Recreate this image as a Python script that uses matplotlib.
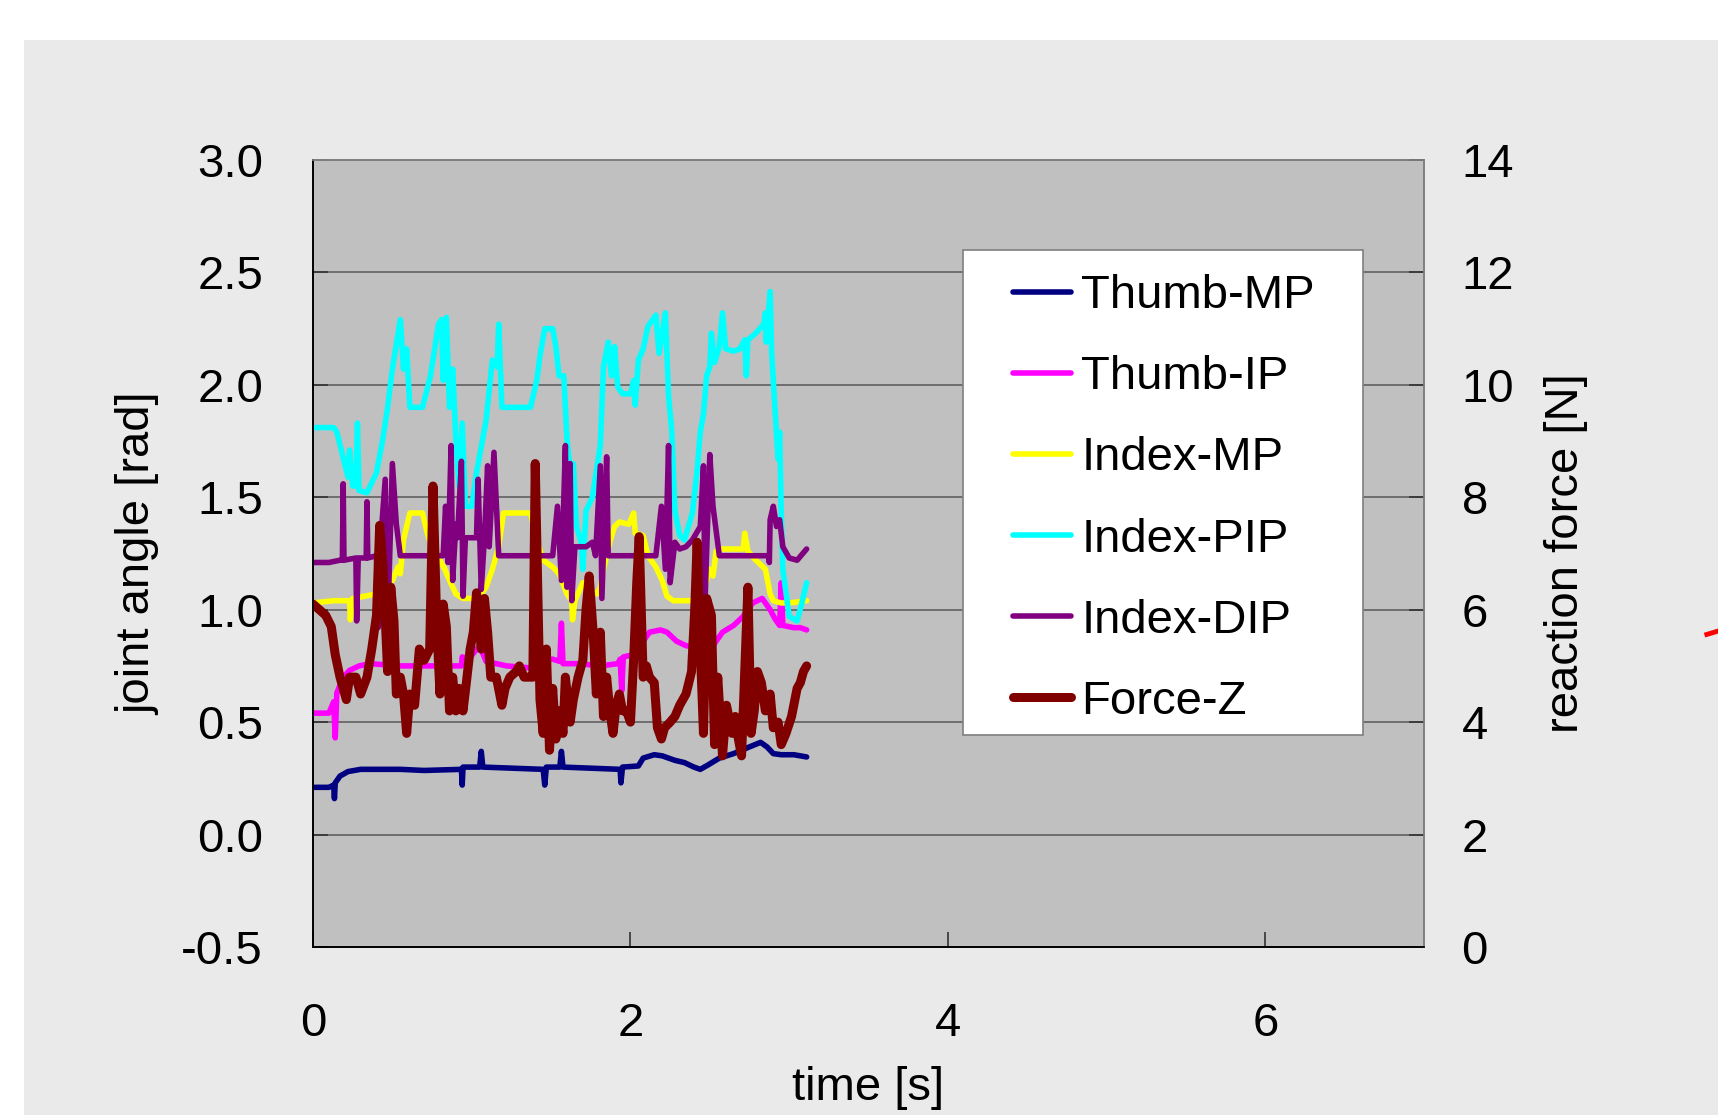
import matplotlib
matplotlib.use("Agg")
import matplotlib.pyplot as plt
from matplotlib.patches import Rectangle
from matplotlib.lines import Line2D

plt.rcParams['font.family'] = ['Liberation Sans', 'DejaVu Sans']

# joint angles [rad]
thumb_mp_t = [0, 0.10, 0.13, 0.135, 0.14, 0.17, 0.22, 0.30, 0.55, 0.70, 0.935, 0.94, 0.945, 1.05, 1.06,
              1.07, 1.45, 1.46, 1.47, 1.555, 1.565, 1.575, 1.935, 1.94, 1.95, 2.05, 2.08, 2.15, 2.20, 2.28,
              2.34, 2.40, 2.44, 2.49, 2.56, 2.65, 2.75, 2.82, 2.86, 2.90, 2.95, 3.03, 3.11]
thumb_mp = [0.21, 0.21, 0.22, 0.16, 0.23, 0.26, 0.28, 0.29, 0.29, 0.285, 0.29, 0.22, 0.30, 0.30, 0.37,
            0.30, 0.29, 0.22, 0.30, 0.30, 0.37, 0.30, 0.29, 0.23, 0.30, 0.305, 0.34, 0.355, 0.35, 0.33,
            0.32, 0.30, 0.29, 0.31, 0.34, 0.36, 0.39, 0.41, 0.39, 0.36, 0.355, 0.355, 0.345]

thumb_ip_t = [0, 0.10, 0.13, 0.14, 0.15, 0.19, 0.23, 0.29, 0.36, 0.55, 0.76, 0.86, 0.935, 0.94, 0.98,
              1.05, 1.09, 1.22, 1.39, 1.47, 1.51, 1.555, 1.565, 1.575, 1.60, 1.68, 1.81, 1.92, 1.935, 1.945,
              1.955, 2.02, 2.06, 2.12, 2.19, 2.23, 2.29, 2.35, 2.44, 2.50, 2.54, 2.58, 2.65, 2.71, 2.77,
              2.83, 2.88, 2.91, 2.94, 2.95, 2.96, 3.03, 3.07, 3.11]
thumb_ip = [0.54, 0.54, 0.59, 0.43, 0.63, 0.70, 0.73, 0.75, 0.76, 0.75, 0.75, 0.75, 0.75, 0.79, 0.78,
            0.84, 0.77, 0.75, 0.74, 0.78, 0.78, 0.77, 0.94, 0.76, 0.76, 0.76, 0.75, 0.76, 0.78, 0.64,
            0.79, 0.80, 0.84, 0.90, 0.91, 0.90, 0.86, 0.84, 0.83, 0.82, 0.86, 0.90, 0.93, 0.97, 1.03,
            1.05, 1.00, 0.96, 0.93, 1.12, 0.93, 0.92, 0.92, 0.91]

index_mp_t = [0, 0.13, 0.23, 0.235, 0.25, 0.40, 0.44, 0.50, 0.535, 0.55, 0.57, 0.59, 0.61, 0.69, 0.72,
              0.76, 0.80, 0.83, 0.86, 0.90, 0.945, 1.03, 1.06, 1.09, 1.13, 1.17, 1.20, 1.37, 1.41, 1.45,
              1.51, 1.55, 1.60, 1.63, 1.635, 1.65, 1.70, 1.74, 1.79, 1.81, 1.83, 1.87, 1.90, 1.93, 1.99,
              2.02, 2.03, 2.08, 2.11, 2.16, 2.20, 2.23, 2.27, 2.40, 2.44, 2.48, 2.50, 2.52, 2.54, 2.57,
              2.71, 2.72, 2.74, 2.79, 2.85, 2.88, 2.90, 2.95, 3.00, 3.11]
index_mp = [1.03, 1.04, 1.04, 0.955, 1.05, 1.07, 1.09, 1.13, 1.19, 1.16, 1.31, 1.37, 1.43, 1.43, 1.34,
            1.25, 1.22, 1.18, 1.13, 1.07, 1.05, 1.05, 1.07, 1.10, 1.18, 1.28, 1.43, 1.43, 1.31, 1.22,
            1.19, 1.16, 1.07, 1.04, 0.955, 1.04, 1.12, 1.09, 1.07, 1.10, 1.18, 1.30, 1.37, 1.39, 1.38,
            1.43, 1.34, 1.33, 1.24, 1.19, 1.13, 1.06, 1.04, 1.04, 1.07, 1.13, 1.18, 1.15, 1.26, 1.27,
            1.27, 1.34, 1.26, 1.22, 1.18, 1.07, 1.04, 1.03, 1.03, 1.04]

index_pip_t = [0, 0.13, 0.15, 0.22, 0.23, 0.25, 0.27, 0.28, 0.29, 0.34, 0.40, 0.44, 0.47, 0.50, 0.55,
               0.57, 0.59, 0.61, 0.69, 0.74, 0.76, 0.79, 0.81, 0.82, 0.84, 0.86, 0.88, 0.90, 0.92, 0.94,
               0.96, 1.00, 1.03, 1.09, 1.13, 1.16, 1.17, 1.19, 1.37, 1.41, 1.43, 1.46, 1.51, 1.53, 1.55,
               1.58, 1.60, 1.63, 1.64, 1.66, 1.69, 1.70, 1.72, 1.76, 1.81, 1.83, 1.86, 1.88, 1.90, 1.92,
               1.95, 2.00, 2.02, 2.03, 2.05, 2.08, 2.11, 2.16, 2.18, 2.22, 2.24, 2.26, 2.28, 2.31, 2.34,
               2.39, 2.42, 2.44, 2.46, 2.48, 2.50, 2.51, 2.53, 2.56, 2.58, 2.60, 2.65, 2.69, 2.72, 2.73,
               2.74, 2.79, 2.84, 2.85, 2.855, 2.88, 2.89, 2.91, 2.93, 2.94, 2.95, 2.96, 3.00, 3.05, 3.08,
               3.11]
index_pip = [1.81, 1.81, 1.79, 1.59, 1.71, 1.55, 1.55, 1.83, 1.53, 1.52, 1.61, 1.76, 1.90, 2.07, 2.29,
             2.07, 2.16, 1.90, 1.90, 2.04, 2.13, 2.27, 2.29, 2.02, 2.30, 1.90, 2.07, 1.76, 1.55, 1.83,
             1.46, 1.46, 1.61, 1.84, 2.11, 2.08, 2.27, 1.90, 1.90, 2.02, 2.13, 2.25, 2.25, 2.17, 2.04,
             2.04, 1.76, 1.55, 1.65, 1.37, 1.30, 1.18, 1.44, 1.50, 1.73, 2.08, 2.19, 2.04, 2.17, 1.99,
             1.96, 1.96, 2.02, 1.91, 2.11, 2.16, 2.26, 2.31, 2.14, 2.32, 1.95, 1.80, 1.44, 1.33, 1.31,
             1.43, 1.62, 1.79, 1.87, 2.04, 2.08, 2.23, 2.10, 2.17, 2.32, 2.16, 2.15, 2.16, 2.20, 2.04,
             2.20, 2.23, 2.27, 2.32, 2.19, 2.415, 2.14, 1.90, 1.67, 1.79, 1.43, 1.18, 0.97, 0.95, 1.03,
             1.12]

index_dip_t = [0, 0.10, 0.17, 0.185, 0.19, 0.195, 0.27, 0.275, 0.285, 0.335, 0.34, 0.345, 0.40, 0.41, 0.42,
               0.455, 0.465, 0.50, 0.525, 0.55, 0.82, 0.835, 0.85, 0.87, 0.88, 0.90, 0.91, 0.935, 0.945, 0.96,
               1.03, 1.04, 1.06, 1.08, 1.10, 1.11, 1.14, 1.17, 1.51, 1.54, 1.565, 1.59, 1.60, 1.62, 1.63,
               1.65, 1.72, 1.76, 1.78, 1.81, 1.82, 1.85, 1.86, 2.16, 2.195, 2.22, 2.24, 2.25, 2.28, 2.31,
               2.35, 2.39, 2.44, 2.46, 2.47, 2.50, 2.52, 2.56, 2.87, 2.875, 2.88, 2.90, 2.92, 2.94, 2.96,
               3.00, 3.05, 3.11]
index_dip = [1.21, 1.21, 1.22, 1.22, 1.56, 1.22, 1.23, 0.95, 1.23, 1.23, 1.48, 1.23, 1.24, 0.92, 1.25,
             1.58, 0.80, 1.65, 1.38, 1.24, 1.24, 1.46, 1.21, 1.73, 1.13, 1.38, 1.32, 1.66, 1.06, 1.32,
             1.32, 1.58, 1.09, 1.32, 1.64, 1.28, 1.70, 1.24, 1.24, 1.46, 1.13, 1.73, 1.10, 1.65, 1.04,
             1.28, 1.28, 1.30, 1.24, 1.64, 1.05, 1.68, 1.24, 1.24, 1.46, 1.18, 1.73, 1.12, 1.30, 1.27,
             1.28, 1.31, 1.37, 1.64, 1.04, 1.69, 1.46, 1.24, 1.24, 1.21, 1.40, 1.46, 1.37, 1.40, 1.28,
             1.23, 1.22, 1.27]

# reaction force [N]
force_t = [0, 0.04, 0.08, 0.115, 0.14, 0.17, 0.21, 0.23, 0.27, 0.30,
           0.34, 0.37, 0.40, 0.42, 0.44, 0.47, 0.49, 0.51, 0.525, 0.55,
           0.57, 0.59, 0.61, 0.64, 0.67, 0.70, 0.735, 0.756, 0.78, 0.80,
           0.82, 0.84, 0.86, 0.88, 0.90, 0.92, 0.945, 0.966, 0.99, 1.01,
           1.03, 1.06, 1.08, 1.10, 1.12, 1.155, 1.19, 1.21, 1.24, 1.28,
           1.30, 1.33, 1.365, 1.385, 1.40, 1.43, 1.45, 1.47, 1.49, 1.51,
           1.53, 1.55, 1.575, 1.59, 1.62, 1.64, 1.67, 1.70, 1.72, 1.74,
           1.765, 1.785, 1.81, 1.83, 1.85, 1.87, 1.89, 1.91, 1.93, 1.95,
           1.975, 2.00, 2.02, 2.04, 2.055, 2.08, 2.10, 2.12, 2.15, 2.17,
           2.195, 2.215, 2.25, 2.28, 2.31, 2.35, 2.385, 2.405, 2.42, 2.44,
           2.46, 2.48, 2.51, 2.53, 2.55, 2.58, 2.605, 2.64, 2.66, 2.68,
           2.70, 2.74, 2.76, 2.78, 2.80, 2.825, 2.85, 2.88, 2.90, 2.93,
           2.95, 2.98, 3.015, 3.05, 3.07, 3.09, 3.11]
force_z = [6.1, 6.0, 5.9, 5.7, 5.2, 4.8, 4.4, 4.8, 4.8, 4.5,
           4.8, 5.3, 5.9, 7.5, 6.8, 4.9, 6.4, 5.8, 4.5, 4.8,
           4.5, 3.8, 4.5, 4.3, 5.3, 5.1, 5.3, 8.2, 5.7, 4.5,
           6.1, 5.7, 4.2, 4.8, 4.2, 4.6, 4.2, 4.7, 5.3, 5.6,
           6.3, 5.3, 6.2, 5.6, 4.8, 4.8, 4.3, 4.6, 4.8, 4.9,
           5.0, 4.8, 4.8, 4.8, 8.6, 4.4, 3.8, 5.3, 3.5, 4.6,
           3.7, 4.2, 3.8, 4.8, 4.0, 4.4, 4.8, 5.1, 6.0, 6.6,
           5.6, 4.5, 5.6, 4.1, 4.8, 4.2, 3.8, 4.3, 4.5, 4.2,
           4.2, 4.0, 5.1, 6.5, 7.3, 4.8, 5.0, 4.8, 4.7, 3.9,
           3.7, 3.9, 4.0, 4.1, 4.3, 4.5, 4.9, 6.0, 7.2, 5.3,
           3.8, 6.2, 5.9, 3.6, 4.8, 3.4, 4.3, 3.8, 4.1, 3.7,
           3.4, 6.4, 3.8, 4.2, 4.9, 4.7, 4.2, 4.5, 3.9, 4.0,
           3.6, 3.8, 4.1, 4.6, 4.7, 4.9, 5.0]

x_ticks = [0, 2, 4, 6]
left_ticks = [-0.5, 0.0, 0.5, 1.0, 1.5, 2.0, 2.5, 3.0]
right_ticks = [0, 2, 4, 6, 8, 10, 12, 14]

FS = 34
fig = plt.figure(figsize=(17.18, 11.15), dpi=100, facecolor='white')
fig.patches.append(Rectangle((0.014, 0), 0.986, 0.964, transform=fig.transFigure,
                             facecolor='#eaeaea', edgecolor='none', zorder=-1))
fig.add_artist(Line2D([0.9935, 1.0], [0.431, 0.434], color='red', lw=3.5))

ax = fig.add_axes([0.1822, 0.1507, 0.6467, 0.7058])
ax.set_facecolor('#c0c0c0')
ax.set_xlim(0, 7)
ax.set_ylim(-0.5, 3.0)
ax.set_xticks(x_ticks)
ax.set_yticks(left_ticks)
ax.set_yticklabels([f'{v:.1f}' for v in left_ticks])
ax.grid(axis='y', color='#6e6e6e', lw=1.4)
ax.set_axisbelow(True)

line_kw = dict(lw=4.0, solid_joinstyle='round', solid_capstyle='round')
ax.plot(thumb_mp_t, thumb_mp, color='#000080', label='Thumb-MP', **line_kw)
ax.plot(thumb_ip_t, thumb_ip, color='#ff00ff', label='Thumb-IP', **line_kw)
ax.plot(index_mp_t, index_mp, color='#ffff00', label='Index-MP', **line_kw)
ax.plot(index_pip_t, index_pip, color='#00ffff', label='Index-PIP', **line_kw)
ax.plot(index_dip_t, index_dip, color='#800080', label='Index-DIP', **line_kw)

ax2 = ax.twinx()
ax2.set_ylim(0, 14)
ax2.set_yticks(right_ticks)
ax2.plot(force_t, force_z, color='#800000', lw=6.5, solid_joinstyle='round',
         solid_capstyle='round', label='Force-Z')

for a in (ax, ax2):
    for s in ('left', 'bottom'):
        a.spines[s].set_color('#000000')
        a.spines[s].set_linewidth(1.2)
    for s in ('top', 'right'):
        a.spines[s].set_color('#808080')
        a.spines[s].set_linewidth(1.2)

ax.tick_params(axis='both', direction='in', length=11, width=1.2, color='#333333', labelsize=FS)
ax.tick_params(axis='y', pad=36)
ax.tick_params(axis='x', pad=39.5)
ax2.tick_params(axis='y', direction='in', length=11, width=1.2, color='#333333', labelsize=FS, pad=27)

ax.set_xlabel('time [s]', fontsize=FS)
ax.set_ylabel('joint angle [rad]', fontsize=FS)
ax2.set_ylabel('reaction force [N]', fontsize=FS)
ax.xaxis.set_label_coords(0.50, -0.151)
ax.yaxis.set_label_coords(-0.138, 0.50)
ax2.yaxis.set_label_coords(1.108, 0.50)

# legend box
ax2.add_patch(Rectangle((0.585, 0.2694), 0.36, 0.6162, transform=ax2.transAxes,
                        facecolor='white', edgecolor='#7f7f7f', lw=1.2, zorder=5))
h1, l1 = ax.get_legend_handles_labels()
h2, l2 = ax2.get_legend_handles_labels()
leg = ax2.legend(h1 + h2, l1 + l2, loc='upper left', bbox_to_anchor=(0.630, 0.855),
                 frameon=False, fontsize=FS, borderpad=0, borderaxespad=0,
                 handlelength=1.22, handletextpad=0.23, labelspacing=0.787)
leg.set_zorder(6)

fig.savefig('out.png', dpi=100, facecolor='white')
